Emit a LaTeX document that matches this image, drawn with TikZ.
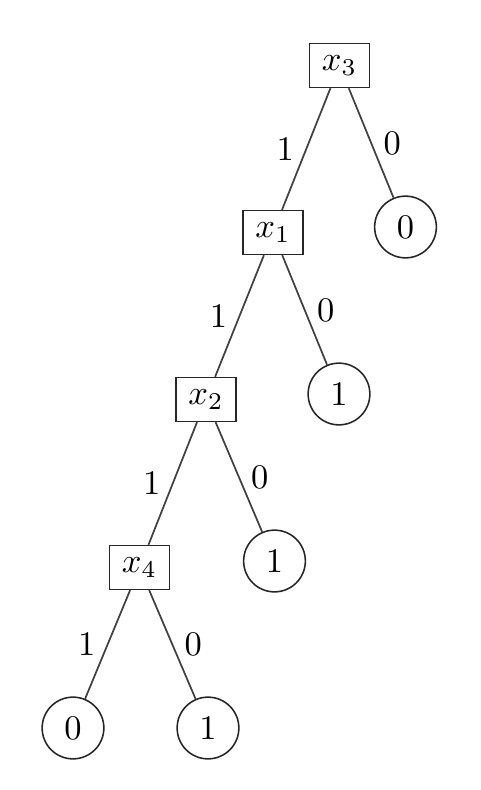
\documentclass[tikz,border=0pt]{standalone}
\begin{document}
\begin{tikzpicture}[x=0.29pt,y=-0.29pt,
  varbox/.style={draw,rectangle,minimum width=17.3pt,minimum height=12.7pt,inner sep=1pt,line width=0.45pt,draw=black!85},
  leafnode/.style={draw,circle,minimum size=17.9pt,inner sep=1pt,line width=0.45pt,draw=black!85},
  edge/.style={draw,line width=0.5pt,black!75},
  lbl/.style={font=\normalsize,text=black}]
\useasboundingbox (0,0) rectangle (480,790);
\node[varbox] (x3) at (339.5,65.5) {$x_3$};
\node[leafnode] (c0) at (405.5,227) {$0$};
\node[varbox] (x1) at (273,232.5) {$x_1$};
\node[leafnode] (c1) at (339,394) {$1$};
\node[varbox] (x2) at (206,399.5) {$x_2$};
\node[leafnode] (c2) at (274.5,561) {$1$};
\node[varbox] (x4) at (139.5,567.5) {$x_4$};
\node[leafnode] (l0) at (73,728) {$0$};
\node[leafnode] (l1) at (208,728) {$1$};
\path[edge] (x3) -- node[midway,left,lbl] {$1$} (x1);
\path[edge] (x3) -- node[midway,right,lbl] {$0$} (c0);
\path[edge] (x1) -- node[midway,left,lbl] {$1$} (x2);
\path[edge] (x1) -- node[midway,right,lbl] {$0$} (c1);
\path[edge] (x2) -- node[midway,left,lbl] {$1$} (x4);
\path[edge] (x2) -- node[midway,right,lbl] {$0$} (c2);
\path[edge] (x4) -- node[midway,left,lbl] {$1$} (l0);
\path[edge] (x4) -- node[midway,right,lbl] {$0$} (l1);
\end{tikzpicture}
\end{document}
